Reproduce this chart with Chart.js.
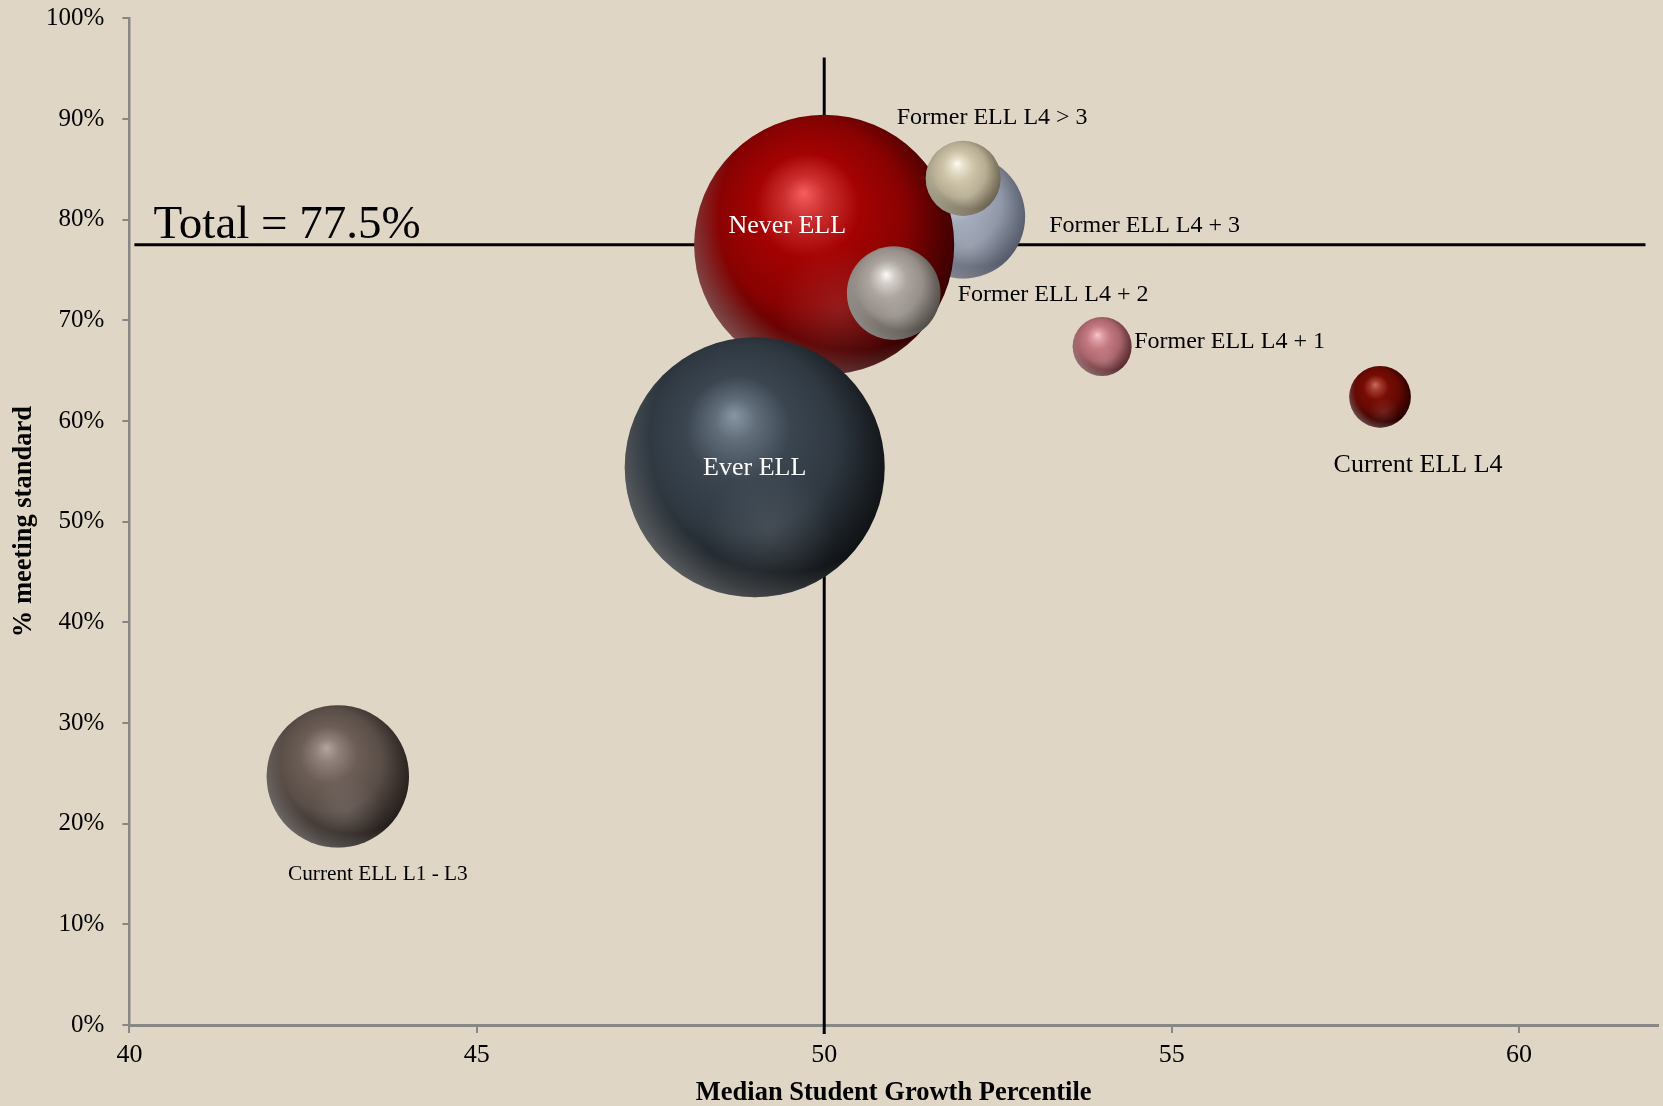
<!DOCTYPE html>
<html>
<head>
<meta charset="utf-8">
<script src="https://cdn.jsdelivr.net/npm/chart.js@4.4.1/dist/chart.umd.min.js"></script>
<style>
html,body{margin:0;padding:0;background:#dfd6c5;overflow:hidden}
canvas{display:block}
</style>
</head>
<body>
<canvas id="c" width="1663" height="1106"></canvas>
<script>
// ---------- DATA (drawing order: back to front) ----------
const groupLabels = ['Former ELL L4 + 3', 'Never ELL', 'Ever ELL', 'Former ELL L4 + 2',
                     'Former ELL L4 > 3', 'Former ELL L4 + 1', 'Current ELL L4', 'Current ELL L1 - L3'];
const growthPercentile   = [52, 50, 49, 51, 52, 54, 58, 43];
const pctMeetingStandard = [80.3, 77.5, 55.4, 72.7, 84.1, 67.4, 62.4, 24.7];
const bubbleSize         = [38.4, 169, 169, 21.9, 14.1, 8.7, 9.5, 50.7];
const totalPct = 77.5;
const referenceGrowth = 50;
const xTickValues = [40, 45, 50, 55, 60];
const yTickValues = [0, 10, 20, 30, 40, 50, 60, 70, 80, 90, 100];
const totalLabel = 'Total = 77.5%';
const xAxisTitle = 'Median Student Growth Percentile';
const yAxisTitle = '% meeting standard';

// ---------- STYLE ----------
const SERIF = "'Liberation Serif', 'Times New Roman', serif";
const BG = '#dfd6c5';
const AXIS = '#878787';
const palette = [
  {hi:'#e6eaf4', base:'#a3abbb', lo:'#555b69'},
  {hi:'#f65e5e', base:'#a40202', lo:'#380000'},
  {hi:'#8896a4', base:'#3a4550', lo:'#101316'},
  {hi:'#fefbf7', base:'#aca59f', lo:'#524d48'},
  {hi:'#fffdf3', base:'#cfc4a9', lo:'#6a624e'},
  {hi:'#f9c8ce', base:'#c47880', lo:'#582a2f'},
  {hi:'#d06c5d', base:'#780c04', lo:'#260000'},
  {hi:'#b4a69e', base:'#6c5e56', lo:'#251f1c'}
];
// label placement relative to bubble centre (px)
const labelLayout = [
  {dx: 86,   dy: 9,    align: 'left',   size: 24, color: '#000'},
  {dx: -37,  dy: -19,  align: 'center', size: 26, color: '#fff'},
  {dx: 0,    dy: 1,    align: 'center', size: 26, color: '#fff'},
  {dx: 64,   dy: 2,    align: 'left',   size: 24, color: '#000'},
  {dx: 29,   dy: -61,  align: 'center', size: 24, color: '#000'},
  {dx: 32,   dy: -5,   align: 'left',   size: 24, color: '#000'},
  {dx: 38,   dy: 68,   align: 'center', size: 26, color: '#000'},
  {dx: 40,   dy: 98,   align: 'center', size: 21.3, color: '#000'}
];

function hexToRgb(h){h=h.replace('#','');return [parseInt(h.substr(0,2),16),parseInt(h.substr(2,2),16),parseInt(h.substr(4,2),16)];}
function mix(a,b,t){const A=hexToRgb(a),B=hexToRgb(b);return 'rgb('+A.map((v,i)=>Math.round(v+(B[i]-v)*t)).join(',')+')';}

function sphereFill(ctx){
  const i = ctx.dataIndex;
  const p = palette[i];
  const chart = ctx.chart;
  if (ctx.type !== 'data' || !chart.chartArea || !chart.scales.x) return p.base;
  const cx = chart.scales.x.getPixelForValue(growthPercentile[i]);
  const cy = chart.scales.y.getPixelForValue(pctMeetingStandard[i]);
  const r = ctx.raw.r;
  const g = chart.ctx.createRadialGradient(cx - 0.16*r, cy - 0.40*r, 0, cx - 0.07*r, cy - 0.12*r, 1.12*r);
  g.addColorStop(0, p.hi);
  g.addColorStop(0.14, mix(p.hi, p.base, 0.5));
  g.addColorStop(0.36, p.base);
  g.addColorStop(0.64, mix(p.base, p.lo, 0.25));
  g.addColorStop(0.87, mix(p.base, p.lo, 0.75));
  g.addColorStop(1, p.lo);
  return g;
}

const spherePlugin = {
  id: 'sphereShine',
  afterDatasetDraw(chart, args){
    const els = args.meta.data;
    const c = chart.ctx;
    for (let i = 0; i < els.length; i++){
      const {x, y} = els[i];
      const r = els[i].options.radius;
      c.save();
      c.beginPath(); c.arc(x, y, r, 0, Math.PI*2); c.clip();
      for (let j = i+1; j < els.length; j++){
        c.beginPath();
        c.rect(0, 0, chart.width, chart.height);
        c.arc(els[j].x, els[j].y, els[j].options.radius, 0, Math.PI*2);
        c.clip('evenodd');
      }
      let g = c.createRadialGradient(x + 0.12*r, y + 0.50*r, 0, x + 0.12*r, y + 0.50*r, 0.5*r);
      g.addColorStop(0, 'rgba(255,255,255,0.10)');
      g.addColorStop(1, 'rgba(255,255,255,0)');
      c.fillStyle = g; c.fillRect(x - r, y - r, 2*r, 2*r);
      g = c.createRadialGradient(x + 0.22*r, y - 0.22*r, 0, x + 0.22*r, y - 0.22*r, 1.32*r);
      g.addColorStop(0.78, 'rgba(255,255,255,0)');
      g.addColorStop(1, 'rgba(255,255,255,0.30)');
      c.fillStyle = g; c.fillRect(x - r, y - r, 2*r, 2*r);
      c.restore();
    }
  }
};

const refPlugin = {
  id: 'refLines',
  beforeDraw(chart){
    const c = chart.ctx;
    c.save(); c.fillStyle = BG; c.fillRect(0, 0, chart.width, chart.height); c.restore();
  },
  beforeDatasetsDraw(chart){
    const c = chart.ctx, xs = chart.scales.x, ys = chart.scales.y, a = chart.chartArea;
    c.save();
    c.strokeStyle = '#000';
    c.lineWidth = 3;
    const yT = ys.getPixelForValue(totalPct);
    c.beginPath(); c.moveTo(xs.getPixelForValue(40) + 5, yT); c.lineTo(xs.getPixelForValue(61.82), yT); c.stroke();
    c.lineWidth = 3;
    const xR = xs.getPixelForValue(referenceGrowth);
    c.beginPath(); c.moveTo(xR, ys.getPixelForValue(96.1)); c.lineTo(xR, a.bottom + 9); c.stroke();
    c.fillStyle = '#000';
    c.font = '47px ' + SERIF;
    c.textAlign = 'left'; c.textBaseline = 'alphabetic';
    c.fillText(totalLabel, xs.getPixelForValue(40) + 24, yT - 7);
    c.restore();
  },
  afterDraw(chart){
    const c = chart.ctx, a = chart.chartArea;
    const els = chart.getDatasetMeta(0).data;
    c.save();
    els.forEach((el, i) => {
      const L = labelLayout[i];
      c.font = L.size + 'px ' + SERIF;
      c.fillStyle = L.color;
      c.textAlign = L.align;
      c.textBaseline = 'middle';
      c.fillText(groupLabels[i], el.x + L.dx, el.y + L.dy);
    });
    c.translate(31, (a.top + a.bottom)/2);
    c.rotate(-Math.PI/2);
    c.font = 'bold 26.5px ' + SERIF;
    c.fillStyle = '#000';
    c.textAlign = 'center'; c.textBaseline = 'alphabetic';
    c.fillText(yAxisTitle, 0, 0);
    c.restore();
  }
};

new Chart(document.getElementById('c'), {
  type: 'bubble',
  data: {
    labels: groupLabels,
    datasets: [{
      label: 'Groups',
      data: growthPercentile.map((x, i) => ({x: x, y: pctMeetingStandard[i], r: Math.sqrt(bubbleSize[i]) * 10})),
      backgroundColor: sphereFill,
      borderWidth: 0,
      hoverBorderWidth: 0,
      hoverRadius: 0,
      clip: false
    }]
  },
  options: {
    responsive: false,
    devicePixelRatio: 1,
    animation: false,
    events: [],
    layout: {autoPadding: false, padding: {top: 18.3, right: 5, left: 0, bottom: 0}},
    plugins: {legend: {display: false}, tooltip: {enabled: false}, title: {display: false}},
    scales: {
      x: {
        type: 'linear', min: 40, max: 62,
        afterBuildTicks: s => { s.ticks = xTickValues.map(v => ({value: v})); },
        afterFit: s => { s.height = 81; s.paddingLeft = 0; s.paddingRight = 0; },
        grid: {display: true, drawOnChartArea: false, drawTicks: true, tickLength: 8, color: AXIS, lineWidth: 2},
        border: {display: true, color: AXIS, width: 3},
        ticks: {font: {family: SERIF, size: 26, lineHeight: 1.2}, color: '#000', padding: 7, autoSkip: false, maxRotation: 0},
        title: {display: true, text: xAxisTitle, font: {family: SERIF, size: 26.5, weight: 'bold', lineHeight: 1.0}, color: '#000', padding: {top: 0, bottom: 0}}
      },
      y: {
        type: 'linear', min: 0, max: 100,
        afterBuildTicks: s => { s.ticks = yTickValues.map(v => ({value: v})); },
        afterFit: s => { s.width = 129.4; s.paddingTop = 0; s.paddingBottom = 0; },
        grid: {display: true, drawOnChartArea: false, drawTicks: true, tickLength: 7, color: AXIS, lineWidth: 2},
        border: {display: true, color: AXIS, width: 2.5},
        ticks: {font: {family: SERIF, size: 25, lineHeight: 1.2}, color: '#000', padding: 18, autoSkip: false, callback: v => v + '%'}
      }
    }
  },
  plugins: [refPlugin, spherePlugin]
});
</script>
</body>
</html>
